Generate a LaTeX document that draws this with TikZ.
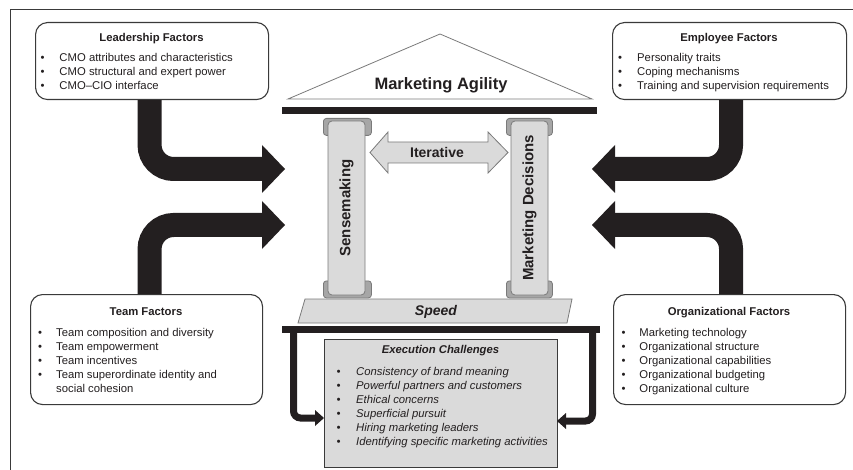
\documentclass[tikz,border=0pt]{standalone}
\usepackage{fontspec}
\setmainfont{Liberation Sans}
\usetikzlibrary{arrows.meta}
\definecolor{ink}{HTML}{231F20}
\definecolor{pale}{HTML}{DADADA}
\definecolor{capgray}{HTML}{A6A6A6}
\definecolor{edge}{HTML}{3A3A3A}
\definecolor{soft}{HTML}{7A7A7A}
\newcommand{\itm}[2][19pt]{\makebox[#1][l]{\textbullet}#2}
\begin{document}
\begin{tikzpicture}[x=1pt,y=-1pt,
  every node/.style={text=ink},
  factorbox/.style={draw=edge, line width=1.1pt, rounded corners=12pt, fill=white, inner sep=0pt, anchor=north west},
  boxtext/.style={font=\fontsize{11.3}{14}\selectfont, inner sep=0pt, align=left, anchor=north west},
  boxtitle/.style={font=\fontsize{11.3}{14}\selectfont\bfseries, inner sep=0pt, anchor=base},
  bigarrow/.style={draw=ink, line width=24pt, rounded corners=24pt, -{Triangle[width=48pt,length=23pt,line width=0pt]}},
  smallarrow/.style={draw=ink, line width=7pt, rounded corners=7pt, -{Triangle[width=16pt,length=9pt,line width=0pt]}},
  capbox/.style={draw=soft, fill=capgray, rounded corners=3pt, line width=0.8pt, inner sep=0pt, anchor=north west},
  pillar/.style={draw=soft, fill=pale, rounded corners=4pt, line width=0.8pt, inner sep=0pt, font=\fontsize{15}{18}\selectfont\bfseries, rotate=90},
]
\useasboundingbox (0,0) rectangle (853,470);
% frame
\draw[edge, line width=1pt] (853,10) -- (10,10) -- (10,470);

% factor boxes
\node[factorbox, minimum width=233pt, minimum height=77pt] (lead) at (35,22) {};
\node[factorbox, minimum width=234pt, minimum height=77pt] (emp) at (612,22) {};
\node[factorbox, minimum width=232pt, minimum height=110pt] (team) at (30,294) {};
\node[factorbox, minimum width=232pt, minimum height=110pt] (org) at (613,294) {};

% big arrows
\coordinate (leadIn) at (285,169);
\coordinate (teamIn) at (285,225);
\coordinate (empIn) at (592,169);
\coordinate (orgIn) at (592,225);
\draw[bigarrow] ([xshift=-2.5pt]lead.south) |- (leadIn);
\draw[bigarrow] ([xshift=3pt]team.north) |- (teamIn);
\draw[bigarrow] ([xshift=1.5pt]emp.south) |- (empIn);
\draw[bigarrow] ([xshift=1.5pt]org.north) |- (orgIn);

% roof
\draw[draw=soft, fill=white, line width=0.8pt] (288,99) -- (440,34) -- (592,99) -- cycle;
\node[font=\fontsize{16.5}{20}\selectfont\bfseries, anchor=base] (agility) at (441,90) {Marketing Agility};
\fill[ink] (282,107) rectangle (597,114.5);

% pillars
\node[capbox, minimum width=48pt, minimum height=17pt] (capLT) at (323,118) {};
\node[capbox, minimum width=48pt, minimum height=17pt] (capLB) at (323,280.5) {};
\node[pillar, minimum width=174pt, minimum height=37pt] (pilL) at (346.5,208) {Sensemaking};
\node[capbox, minimum width=46pt, minimum height=17pt] (capRT) at (506,118) {};
\node[capbox, minimum width=46pt, minimum height=17pt] (capRB) at (506,280.5) {};
\node[pillar, minimum width=174pt, minimum height=37pt] (pilR) at (529.5,208) {Marketing Decisions};

% iterative arrow
\draw[draw=soft, fill=pale, line width=0.8pt] (370,152.5) -- (388,132) -- (388,142) -- (488,142) -- (488,132) -- (508,152.5) -- (488,173) -- (488,163) -- (388,163) -- (388,173) -- cycle;
\node[font=\fontsize{14}{16}\selectfont\bfseries, anchor=base] (iter) at (437,158) {Iterative};

% speed
\draw[draw=soft, fill=pale, line width=0.8pt] (305,299) -- (572,299) -- (567,323) -- (298,323) -- cycle;
\node[font=\fontsize{14}{16}\selectfont\bfseries\itshape, anchor=base] (speed) at (436,315.5) {Speed};

% base bar and execution box
\node[fill=ink, inner sep=0pt, minimum width=318pt, minimum height=7pt, anchor=north west] (basebar) at (282,326) {};
\node[draw=edge, fill=pale, line width=1pt, inner sep=0pt, minimum width=233pt, minimum height=128pt, anchor=north west] (exec) at (324,339) {};
\coordinate (legL) at (293.5,330);
\coordinate (execL) at (324,418);
\coordinate (legR) at (592.5,330);
\coordinate (execR) at (557,421);
\draw[smallarrow] (legL) |- (execL);
\draw[smallarrow] (legR) |- (execR);

% texts
\node[boxtitle] (leadT) at (151.5,41.3) {Leadership Factors};
\node[boxtext] (leadL) at (40.3,53.2) {\itm{CMO attributes and characteristics}\\ \itm{CMO structural and expert power}\\ \itm{CMO–CIO interface}};

\node[boxtitle] (empT) at (729,41.3) {Employee Factors};
\node[boxtext] (empL) at (618,53.2) {\itm{Personality traits}\\ \itm{Coping mechanisms}\\ \itm{Training and supervision requirements}};

\node[boxtitle] (teamT) at (146,315) {Team Factors};
\node[boxtext] (teamL) at (38,328.2) {\itm[18pt]{Team composition and diversity}\\ \itm[18pt]{Team empowerment}\\ \itm[18pt]{Team incentives}\\ \itm[18pt]{Team superordinate identity and}\\ \hspace*{18pt}social cohesion};

\node[boxtitle] (orgT) at (729,315) {Organizational Factors};
\node[boxtext] (orgL) at (621.3,328.2) {\itm[18pt]{Marketing technology}\\ \itm[18pt]{Organizational structure}\\ \itm[18pt]{Organizational capabilities}\\ \itm[18pt]{Organizational budgeting}\\ \itm[18pt]{Organizational culture}};

\node[boxtitle, font=\fontsize{11.3}{14}\selectfont\bfseries\itshape] (execT) at (440.5,353.5) {Execution Challenges};
\node[boxtext, font=\fontsize{11.3}{14}\selectfont\itshape] (execList) at (336.3,367.2) {\itm[19.7pt]{Consistency of brand meaning}\\ \itm[19.7pt]{Powerful partners and customers}\\ \itm[19.7pt]{Ethical concerns}\\ \itm[19.7pt]{Superficial pursuit}\\ \itm[19.7pt]{Hiring marketing leaders}\\ \itm[19.7pt]{Identifying specific marketing activities}};
\end{tikzpicture}
\end{document}
